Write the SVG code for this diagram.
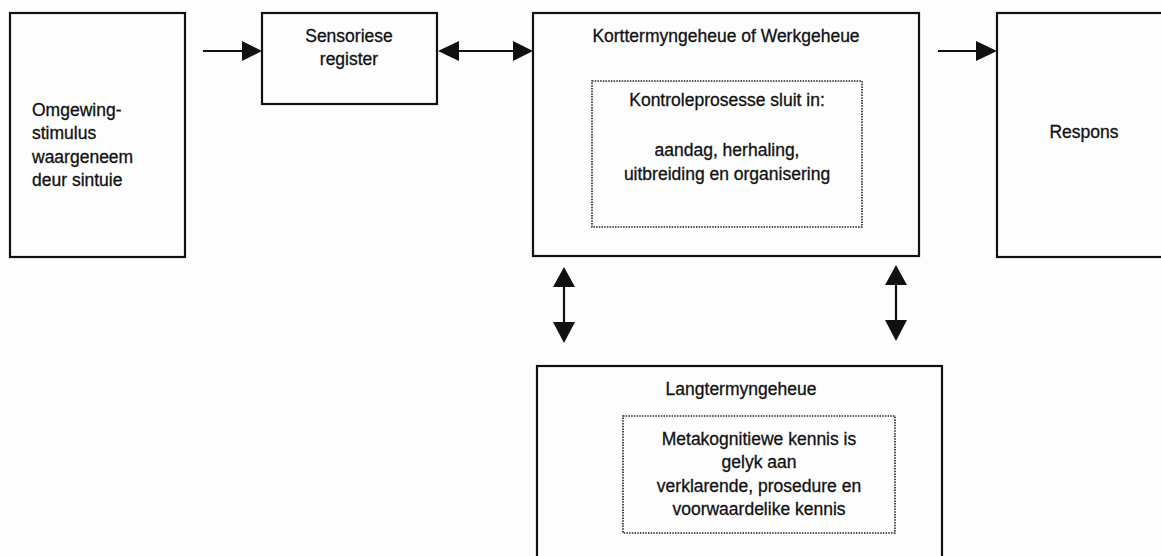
<svg xmlns="http://www.w3.org/2000/svg" width="1161" height="556" viewBox="0 0 1161 556">
  <style>
    .box { fill: none; stroke: #111; stroke-width: 2.2; }
    .inner { fill: none; stroke: #222; stroke-width: 1.6; stroke-dasharray: 1.5 1.2; }
    .lbl { font-family: "Liberation Sans", Arial, sans-serif; font-size: 17.5px; fill: #111; stroke: #111; stroke-width: 0.3; }
    .mid { text-anchor: middle; }
    .wire { stroke: #111; stroke-width: 2.2; fill: none; }
    .head { fill: #111; }
  </style>
  <rect width="1161" height="556" fill="#fdfdfd"/>

  <g id="omgewing">
    <rect class="box" x="10" y="13" width="175" height="244"/>
    <text class="lbl" x="32" y="116">Omgewing-</text>
    <text class="lbl" x="32" y="139">stimulus</text>
    <text class="lbl" x="32" y="163">waargeneem</text>
    <text class="lbl" x="32" y="186">deur sintuie</text>
  </g>

  <g id="sensoriese">
    <rect class="box" x="262" y="13" width="175" height="91"/>
    <text class="lbl mid" x="349" y="42">Sensoriese</text>
    <text class="lbl mid" x="349" y="65">register</text>
  </g>

  <g id="korttermyn">
    <rect class="box" x="533" y="13" width="386" height="243"/>
    <text class="lbl mid" x="726" y="42">Korttermyngeheue of Werkgeheue</text>
    <rect class="inner" x="592" y="81" width="270" height="146"/>
    <text class="lbl mid" x="727" y="106">Kontroleprosesse sluit in:</text>
    <text class="lbl mid" x="727" y="156">aandag, herhaling,</text>
    <text class="lbl mid" x="727" y="180">uitbreiding en organisering</text>
  </g>

  <g id="respons">
    <rect class="box" x="997" y="13" width="180" height="244"/>
    <text class="lbl mid" x="1084" y="138">Respons</text>
  </g>

  <g id="langtermyn">
    <rect class="box" x="537" y="366" width="405" height="210"/>
    <text class="lbl mid" x="741" y="395">Langtermyngeheue</text>
    <rect class="inner" x="623" y="416" width="272" height="117"/>
    <text class="lbl mid" x="759" y="445">Metakognitiewe kennis is</text>
    <text class="lbl mid" x="759" y="468">gelyk aan</text>
    <text class="lbl mid" x="759" y="492">verklarende, prosedure en</text>
    <text class="lbl mid" x="759" y="515">voorwaardelike kennis</text>
  </g>

  <g id="connectors">
    <!-- stimulus to sensory register -->
    <line class="wire" x1="203" y1="51" x2="244" y2="51"/>
    <polygon class="head" points="262,51 242,41 242,61"/>
    <!-- sensory register to working memory (two-way) -->
    <line class="wire" x1="457" y1="51" x2="515" y2="51"/>
    <polygon class="head" points="438,51 459,41 459,61"/>
    <polygon class="head" points="533,51 513,41 513,61"/>
    <!-- working memory to response -->
    <line class="wire" x1="938" y1="51" x2="978" y2="51"/>
    <polygon class="head" points="997,51 976,41 976,61"/>
    <!-- working memory to long-term memory (two-way, left) -->
    <line class="wire" x1="564" y1="285" x2="564" y2="324"/>
    <polygon class="head" points="564,267 553,287 575,287"/>
    <polygon class="head" points="564,343 553,322 575,322"/>
    <!-- working memory to long-term memory (two-way, right) -->
    <line class="wire" x1="896" y1="283" x2="896" y2="322"/>
    <polygon class="head" points="896,265 885,285 907,285"/>
    <polygon class="head" points="896,341 885,320 907,320"/>
  </g>
</svg>
